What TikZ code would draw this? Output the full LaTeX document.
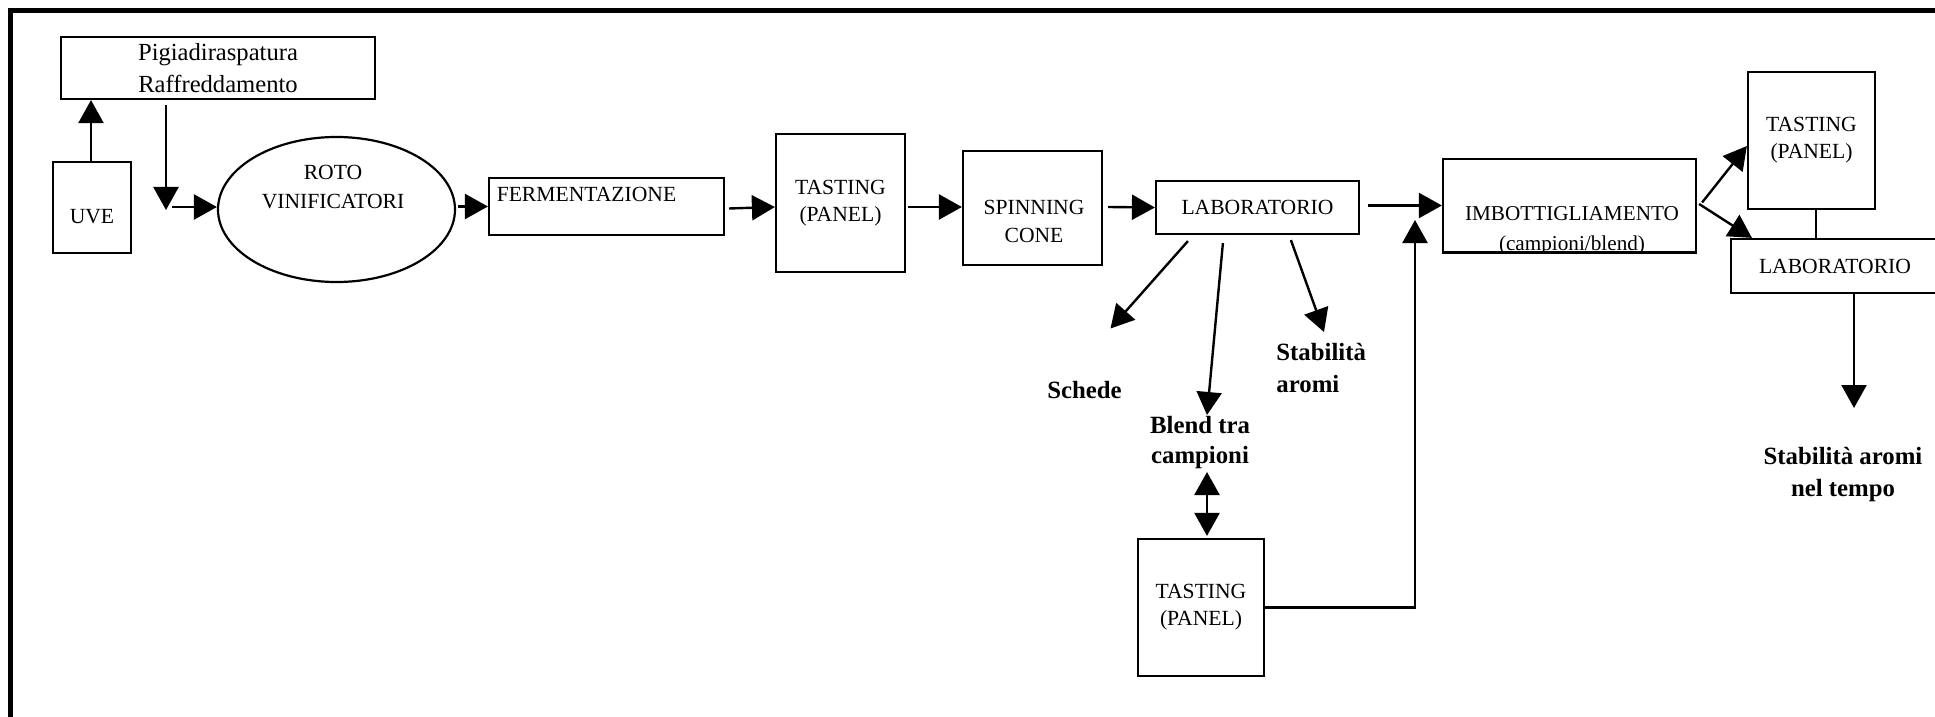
\documentclass[tikz,border=0pt]{standalone}
\usepackage{fontspec}
\setmainfont{Liberation Serif}
\usetikzlibrary{arrows.meta,shapes.geometric,calc}

\begin{document}
\begin{tikzpicture}[x=0.5pt,y=-0.5pt,
  every node/.style={font=\fontsize{10.8}{13.5}\selectfont, inner sep=0pt},
  box/.style={draw, line width=1.1pt, rectangle, align=center},
  oval/.style={draw, line width=1.1pt, ellipse},
  tag/.style={font=\fontsize{12.4}{16}\selectfont\bfseries, align=center},
  arr/.style={line width=1.2pt, -{Triangle[length=11.5pt,width=12.5pt]}},
  dblarr/.style={line width=1.2pt, {Triangle[length=11.5pt,width=12.5pt]}-{Triangle[length=11.5pt,width=12.5pt]}},
  link/.style={line width=1.2pt}
]
\useasboundingbox (0,0) rectangle (1935,717);

% outer frame (top and left edges)
\draw[line width=2.5pt] (10.5,740) -- (10.5,10.5) -- (1960,10.5);

% process steps
\node[box, minimum width=157pt, minimum height=31pt, font=\fontsize{12.3}{16}\selectfont] (pigia) at (218,68) {Pigiadiraspatura\\Raffreddamento};
\node[box, minimum width=39pt, minimum height=45.5pt, label={[yshift=-4.5pt]center:UVE}] (uve) at (92,207.5) {};
\node[oval, minimum width=118.5pt, minimum height=72.5pt,
      label={[align=center,xshift=-1.75pt,yshift=11pt,font=\fontsize{10.8}{14.5}\selectfont]center:ROTO\\VINIFICATORI}] (roto) at (336.5,209.5) {};
\node[box, minimum width=117.5pt, minimum height=28.5pt, label={[xshift=-10pt,yshift=6.25pt]center:FERMENTAZIONE}] (ferm) at (606.5,206.5) {};
\node[box, minimum width=64.5pt, minimum height=69pt] (tast1) at (840.5,203) {TASTING\\(PANEL)};
\node[box, minimum width=69.5pt, minimum height=57pt,
      label={[align=center,xshift=0.75pt,yshift=-6.5pt,font=\fontsize{10.8}{14}\selectfont]center:SPINNING\\CONE}] (spin) at (1032.5,208) {};
\node[box, minimum width=101.5pt, minimum height=26.5pt] (lab1) at (1257.5,207.5) {LABORATORIO};
\node[box, minimum width=126.5pt, minimum height=46.5pt,
      label={[align=center,xshift=1.25pt,yshift=-12.75pt,font=\fontsize{10.6}{15}\selectfont]center:IMBOTTIGLIAMENTO\\(campioni/blend)}] (imb) at (1569.5,205.5) {};
% the bottling box edge cuts through the descenders of its second line
\fill[white] ($(imb.south west)+(-2,1)$) rectangle ($(imb.south east)+(2,10)$);
\draw[line width=1.1pt] (imb.south west) -- (imb.south east);
\node[box, minimum width=63.5pt, minimum height=68.5pt] (tast4) at (1811.5,140.5) {TASTING\\(PANEL)};
\node[box, minimum width=104pt, minimum height=27pt] (lab2) at (1835,266) {LABORATORIO};
\node[box, minimum width=63pt, minimum height=68.5pt] (tast3) at (1201,607.5) {TASTING\\(PANEL)};

% outcome labels
\node[tag] (schede) at (1084.5,390.5) {Schede};
\node[tag, font=\fontsize{12.4}{15}\selectfont\bfseries] (blend) at (1200,443) {Blend tra\\campioni};
\node[tag, align=left, anchor=west] (stab1) at (1276,368) {Stabilità\\aromi};
\node[tag] (stab2) at (1843,475) {Stabilità aromi\\nel tempo};

% main flow
\draw[arr] ($(uve.north)+(-1,0)$) -- ($(pigia.south -| uve.north)+(-1,0)$);
\coordinate (drop) at (166,210);
\draw[arr] ($(pigia.south -| drop)+(0,5)$) -- (drop);
\coordinate (feed) at (172,207);
\draw[arr] (feed) -- (feed -| roto.west);
\draw[arr] ($(ferm.west -| roto.east)+(2,0)$) -- (ferm.west);
\draw[arr] ($(ferm.east)+(4,2)$) -- ($(tast1.west)+(0,4)$);
\draw[arr] ($(tast1.east)+(2,4)$) -- ($(spin.west)+(0,-1)$);
\draw[arr] ($(spin.east)+(5,-1)$) -- (lab1.west);
\draw[arr] ($(lab1.east)+(8,-2)$) -- (imb.west);

% laboratory outputs
\draw[arr] ($(lab1.south west)+(33,6)$) -- ($(schede)+(26,-62)$);
\draw[arr] ($(lab1.south west)+(68,8)$) -- ($(blend)+(7,-28)$);
\draw[arr] ($(lab1.south west)+(136,5)$) -- ($(stab1.west)+(48,-36)$);
\draw[dblarr] ($(blend)+(7,29)$) -- ($(tast3.north)+(6,-2)$);

% blend tasting back to bottling
\coordinate (rise) at (1415,220);
\draw[arr] (tast3.east) -| (rise);

% after bottling
\draw[arr] ($(imb.east)+(5,-3)$) -- ($(tast4.west)+(0,5.5)$);
\draw[arr] ($(imb.east)+(2,-1.5)$) -- ($(lab2.north west)+(22,0)$);
\coordinate (tie) at ($(tast4.south)+(4.5,0)$);
\draw[link] (tie) -- (tie |- lab2.north);
\coordinate (drop2) at ($(stab2)+(11,-67)$);
\draw[arr] (drop2 |- lab2.south) -- (drop2);
\end{tikzpicture}
\end{document}
